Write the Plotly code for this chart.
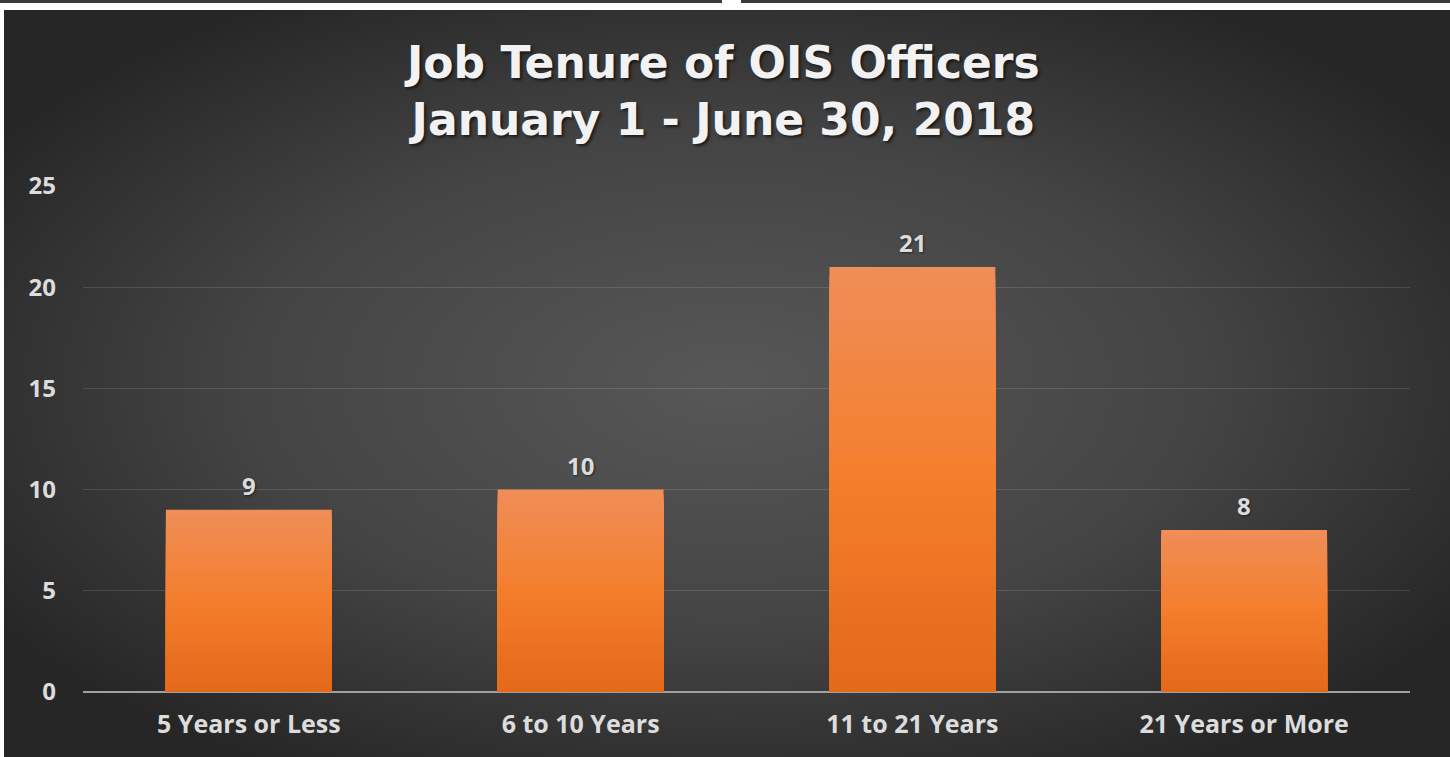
import base64
import plotly.graph_objects as go

categories = ["5 Years or Less", "6 to 10 Years", "11 to 21 Years", "21 Years or More"]
officers = [9, 10, 21, 8]
y_ticks = [0, 5, 10, 15, 20, 25]
title_lines = ["Job Tenure of OIS Officers", "January 1 - June 30, 2018"]

W, H = 1450, 757
LABEL_COLOR = "#dcdcdc"
FONT = "Open Sans"

# gradient stops (bottom -> top) for the bars
grad = [(0.0, (0xE4, 0x68, 0x1A)), (0.5, (0xF4, 0x7E, 0x2C)), (1.0, (0xEF, 0x8E, 0x58))]


def grad_color(t):
    for (t0, c0), (t1, c1) in zip(grad[:-1], grad[1:]):
        if t0 <= t <= t1:
            f = (t - t0) / (t1 - t0)
            c = [round(a + (b - a) * f) for a, b in zip(c0, c1)]
            return "rgb(%d,%d,%d)" % tuple(c)
    return "rgb(%d,%d,%d)" % grad[-1][1]


fig = go.Figure()

N = 40
for k in range(N):
    frac = 1 - k / N  # layer height as a fraction of the value
    t = frac - 0.5 / N
    fig.add_trace(go.Bar(
        x=categories,
        y=[v * frac for v in officers],
        width=0.5,
        marker=dict(color=grad_color(t), line=dict(width=0)),
        hoverinfo="skip" if k else None,
        showlegend=False,
    ))

for c, v in zip(categories, officers):
    fig.add_annotation(
        x=c, y=v, text=str(v), showarrow=False, yanchor="bottom", yshift=6,
        font=dict(family=FONT, size=24, color=LABEL_COLOR, weight="bold",
                  shadow="1px 1px 2px rgba(0,0,0,0.5)"),
    )

# title as a paper annotation
fig.add_annotation(
    x=722 / W, y=1 - 35 / H, xref="paper", yref="paper", xanchor="center", yanchor="top",
    text="<br>".join(title_lines), showarrow=False, align="center",
    font=dict(family="DejaVu Sans", size=44, color="#f2f2f2", weight="bold",
              shadow="2px 2px 3px rgba(0,0,0,0.6)"),
)

svg = f'''<svg xmlns="http://www.w3.org/2000/svg" width="{W}" height="{H}" viewBox="0 0 {W} {H}" preserveAspectRatio="none">
<defs><radialGradient id="g" cx="50%" cy="50%" r="60%">
<stop offset="0%" stop-color="#575757"/><stop offset="55%" stop-color="#444444"/><stop offset="100%" stop-color="#262626"/>
</radialGradient></defs>
<rect width="{W}" height="{H}" fill="url(#g)"/></svg>'''
src = "data:image/svg+xml;base64," + base64.b64encode(svg.encode()).decode()

fig.add_layout_image(dict(
    source=src, xref="paper", yref="paper", x=4 / W, y=(H - 10) / H,
    sizex=1 - 4 / W, sizey=(H - 10) / H, xanchor="left", yanchor="top",
    sizing="stretch", layer="below",
))

# top strip lines
fig.add_shape(type="rect", xref="paper", yref="paper", x0=0, x1=722 / W,
              y0=1 - 3 / H, y1=1, fillcolor="#3a3a3a", line=dict(width=0))
fig.add_shape(type="rect", xref="paper", yref="paper", x0=741 / W, x1=1,
              y0=1 - 3 / H, y1=1, fillcolor="#3a3a3a", line=dict(width=0))

fig.update_layout(
    width=W, height=H,
    margin=dict(l=0, r=0, t=0, b=0, pad=0, autoexpand=False),
    paper_bgcolor="white",
    plot_bgcolor="rgba(0,0,0,0)",
    barmode="overlay",
    bargap=0.5,
    showlegend=False,
    xaxis=dict(
        domain=[83 / W, 1410 / W], automargin=False,
        showgrid=False, zeroline=False, showline=False, ticks="",
        ticklabelstandoff=15,
        tickfont=dict(family=FONT, size=25, color=LABEL_COLOR, weight="bold"),
    ),
    yaxis=dict(
        domain=[(H - 692) / H, (H - 186) / H], automargin=False,
        range=[0, 25], tickvals=y_ticks,
        showgrid=True, gridcolor="rgba(255,255,255,0.12)", gridwidth=1,
        zeroline=True, zerolinecolor="#a0a0a0", zerolinewidth=2,
        showline=False, ticks="", ticklabelstandoff=26,
        tickfont=dict(family=FONT, size=24, color=LABEL_COLOR, weight="bold"),
    ),
)

fig.write_html("out.html", config={"displayModeBar": False},
               post_script="document.body.style.margin='0';document.body.style.overflow='hidden';")
